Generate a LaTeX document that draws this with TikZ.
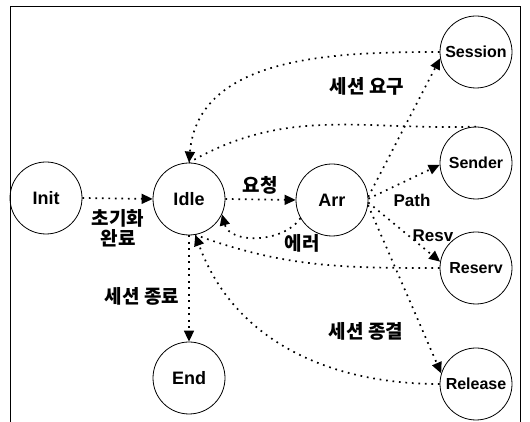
\documentclass[tikz,border=0pt]{standalone}
\usepackage{fontspec}
\setmainfont{Liberation Sans}
\newfontfamily\kr{Noto Sans CJK KR}
\usetikzlibrary{arrows.meta}
\begin{document}
\begin{tikzpicture}[x=1pt,y=1pt,
  state/.style={circle,draw,line width=0.8pt,minimum size=72pt,inner sep=0pt,font=\bfseries\fontsize{18}{20}\selectfont},
  sstate/.style={state,font=\bfseries\fontsize{16}{18}\selectfont},
  dotline/.style={line width=1.7pt,dash pattern=on 1.7pt off 4.8pt},
  arr/.style={dotline,-{Triangle[length=11pt,width=10pt]}},
  lbl/.style={font=\kr\bfseries\fontsize{19}{21}\selectfont,inner sep=1pt},
  elbl/.style={font=\bfseries\fontsize{17}{19}\selectfont,inner sep=1pt}]
\useasboundingbox (0,0) rectangle (530,422);
\draw[line width=1pt] (10,0) -- (10,415) -- (520,415) -- (520,0);
\node[state] (init) at (46,224) {Init};
\node[state] (idle) at (189,223) {Idle};
\node[state] (arr) at (332,222) {Arr};
\node[state] (end) at (189,44) {End};
\node[sstate] (session) at (476,370) {Session};
\node[sstate] (sender) at (476,259) {Sender};
\node[sstate] (reserv) at (476,154) {Reserv};
\node[sstate] (release) at (476,38) {Release};
% edges
\draw[arr] (init.east) -- (idle.west);
\draw[arr] (idle.east) -- (arr.west);
\draw[arr] (arr.210) to[out=235,in=-75] (idle.-25);
\draw[arr] (arr.5) -- (session.190);
\draw[arr] (arr.2) -- (sender.183);
\draw[arr] (arr.-4) -- (reserv.170);
\draw[arr] (arr.-8) -- (release.163);
\draw[arr] (session.west) to[out=180,in=85] (idle.north);
\draw[dotline] (sender.north) to[out=182,in=30] (idle.north);
\draw[dotline] (reserv.west) to[out=180,in=-20] (idle.-80);
\draw[arr] (release.west) to[out=180,in=-70] (idle.-80);
\draw[arr] (idle.south) -- (end.north);
% labels
\node[lbl,align=center] (l1) at (118,194) {초기화\\[-1pt]완료};
\node[lbl] (l2) at (260,237) {요청};
\node[lbl] (l3) at (302,179) {에러};
\node[lbl] (l4) at (367,336) {세션 요구};
\node[elbl] (l5) at (412,222) {Path};
\node[elbl] (l6) at (433,186) {Resv};
\node[lbl] (l7) at (366,91) {세션 종결};
\node[lbl] (l8) at (142,126) {세션 종료};
\end{tikzpicture}
\end{document}
